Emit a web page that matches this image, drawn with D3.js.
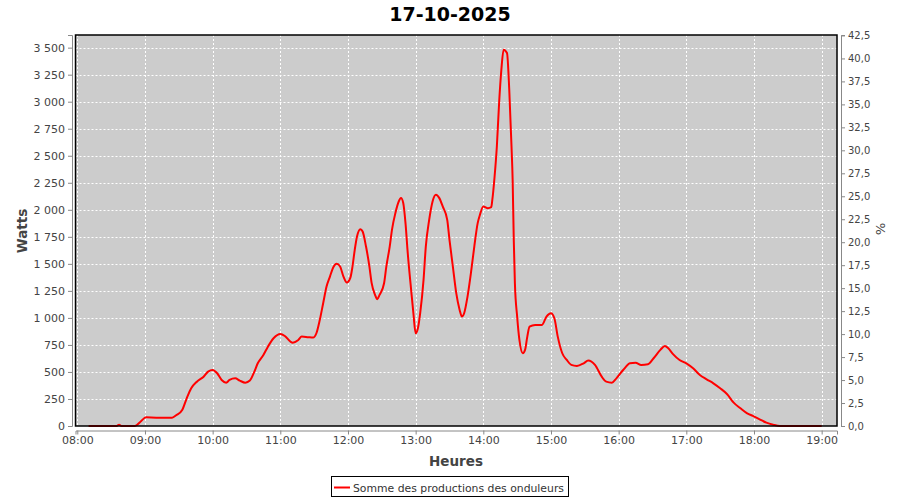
<!DOCTYPE html>
<html><head><meta charset="utf-8">
<script src="https://cdn.jsdelivr.net/npm/d3@7"></script>
<style>body{margin:0;background:#fff;} text{font-family:"DejaVu Sans",sans-serif;}</style>
</head><body><svg id="c" width="900" height="500"></svg>
<script>
const title = "17-10-2025";
const times = ["08:10","08:35","08:37","08:39","08:51","08:56","09:01","09:10","09:24","09:28","09:33","09:37","09:41","09:46","09:52","09:56","10:00","10:04","10:08","10:12","10:15","10:20","10:24","10:29","10:33","10:37","10:40","10:45","10:49","10:54","11:00","11:04","11:09","11:11","11:16","11:19","11:25","11:29","11:32","11:35","11:38","11:41","11:44","11:47","11:50","11:53","11:56","11:59","12:02","12:04","12:06","12:08","12:11","12:13","12:16","12:19","12:21","12:24","12:26","12:28","12:32","12:34","12:37","12:39","12:42","12:45","12:47","12:49","12:51","12:53","12:56","12:58","13:00","13:02","13:04","13:07","13:09","13:12","13:15","13:18","13:21","13:24","13:28","13:30","13:33","13:36","13:39","13:41","13:43","13:46","13:49","13:52","13:55","13:57","14:00","14:04","14:07","14:08","14:10","14:12","14:14","14:16","14:18","14:21","14:23","14:25","14:26","14:27","14:28","14:30","14:32","14:35","14:37","14:39","14:41","14:46","14:52","14:56","15:00","15:03","15:06","15:10","15:14","15:18","15:23","15:29","15:33","15:39","15:45","15:49","15:54","15:58","16:04","16:10","16:15","16:20","16:26","16:31","16:37","16:41","16:44","16:48","16:54","17:00","17:06","17:12","17:18","17:24","17:30","17:36","17:42","17:48","17:54","17:59","18:05","18:11","18:17","18:23","19:00"];
const watts = [0,0,12,0,0,40,80,77,77,102,148,256,349,410,456,503,518,488,426,401,426,441,420,401,420,503,580,657,734,812,852,833,780,771,796,827,821,818,858,981,1136,1290,1382,1469,1500,1475,1382,1327,1367,1475,1630,1753,1821,1799,1660,1475,1321,1213,1173,1213,1321,1475,1660,1815,1969,2077,2108,2062,1877,1599,1259,1043,858,904,1043,1352,1660,1907,2077,2139,2108,2031,1907,1722,1475,1229,1074,1012,1043,1197,1414,1660,1877,1954,2031,2015,2024,2093,2308,2586,2988,3296,3481,3451,3111,2586,2278,1722,1321,1012,796,673,704,827,919,935,935,1012,1043,997,827,673,611,565,555,580,605,565,456,410,401,441,518,580,586,565,571,627,704,741,719,667,611,580,534,472,432,395,349,296,216,164,117,93,62,31,12,0,0];
const hourTicks = ["08:00","09:00","10:00","11:00","12:00","13:00","14:00","15:00","16:00","17:00","18:00","19:00"];
const wattTicks = [0,250,500,750,1000,1250,1500,1750,2000,2250,2500,2750,3000,3250,3500];
const pctTicks = [0,2.5,5,7.5,10,12.5,15,17.5,20,22.5,25,27.5,30,32.5,35,37.5,40,42.5];
const seriesName = "Somme des productions des onduleurs";
const yLabel = "Watts", y2Label = "%", xLabel = "Heures";

const toDate = s => { const [h,m] = s.split(":").map(Number); return new Date(2025,9,17,h,m); };
const data = times.map((t,i)=>({t:toDate(t), w:watts[i]}));

const L=75.5, R=837, T=35, B=426;
const svg = d3.select("#c");
const x = d3.scaleTime().domain([new Date(2025,9,17,7,58,24), new Date(2025,9,17,19,13,36)]).range([L,R]);
const y = d3.scaleLinear().domain([0,3617]).range([B,T]);
const y2 = d3.scaleLinear().domain([0,42.55]).range([B,T]);

svg.append("rect").attr("x",L).attr("y",T).attr("width",R-L).attr("height",B-T).attr("fill","#cccccc");
// grid
svg.append("g").selectAll("line").data(wattTicks).join("line")
  .attr("x1",L).attr("x2",R).attr("y1",d=>Math.round(y(d))+0.5).attr("y2",d=>Math.round(y(d))+0.5)
  .attr("stroke","#fff").attr("stroke-width",1).attr("stroke-dasharray","2,2");
svg.append("g").selectAll("line").data(hourTicks).join("line")
  .attr("y1",T).attr("y2",B).attr("x1",d=>Math.round(x(toDate(d)))+0.5).attr("x2",d=>Math.round(x(toDate(d)))+0.5)
  .attr("stroke","#fff").attr("stroke-width",1).attr("stroke-dasharray","2,2");

// line
svg.append("path").datum(data).attr("d", d3.line().x(d=>x(d.t)).y(d=>y(d.w)).curve(d3.curveMonotoneX))
  .attr("fill","none").attr("stroke","#ff0000").attr("stroke-width",2);

svg.append("rect").attr("x",L).attr("y",T).attr("width",R-L).attr("height",B-T).attr("fill","none").attr("stroke","#000").attr("stroke-width",1.5);

// axes
const fmtW = d => d3.format(",")(d).replace(/,/g," ");
const fmtP = d => d3.format(".1f")(d).replace(".",",");
const gl = svg.append("g").attr("transform","translate(72,0)").call(d3.axisLeft(y).tickValues(wattTicks).tickFormat(fmtW).tickSize(4).tickPadding(3));
const g2 = svg.append("g").attr("transform","translate(841,0)").call(d3.axisRight(y2).tickValues(pctTicks).tickFormat(fmtP).tickSize(4).tickPadding(3));
const gx = svg.append("g").attr("transform","translate(0,430.5)").call(d3.axisBottom(x).tickValues(hourTicks.map(toDate)).tickFormat(d3.timeFormat("%H:%M")).tickSize(4).tickPadding(2));
[gl,g2,gx].forEach(g=>{
  g.select(".domain").attr("stroke","#888");
  g.selectAll(".tick line").attr("stroke","#888");
  g.selectAll("text").attr("fill","#444").style("font-family","DejaVu Sans").style("font-size","11px");
});
g2.selectAll("text").style("font-size","10px");

// labels
svg.append("text").attr("x",450).attr("y",21).attr("text-anchor","middle").attr("font-weight","bold").attr("font-size",19).attr("fill","#000").text(title);
svg.append("text").attr("x",456).attr("y",466).attr("text-anchor","middle").attr("font-weight","bold").attr("font-size",13.5).attr("fill","#444").text(xLabel);
svg.append("text").attr("transform","translate(27,231) rotate(-90)").attr("text-anchor","middle").attr("font-weight","bold").attr("font-size",13.5).attr("fill","#444").text(yLabel);
svg.append("text").attr("transform","translate(876,229) rotate(90)").attr("text-anchor","middle").attr("font-size",13).attr("fill","#444").text(y2Label);

// legend
const lg = svg.append("g");
lg.append("rect").attr("x",331.5).attr("y",476.5).attr("width",237).attr("height",20).attr("fill","#fff").attr("stroke","#000");
lg.append("line").attr("x1",334).attr("x2",350).attr("y1",487.5).attr("y2",487.5).attr("stroke","#ff0000").attr("stroke-width",2);
lg.append("text").attr("x",353).attr("y",491.5).attr("font-size",11).attr("textLength",211).attr("lengthAdjust","spacingAndGlyphs").attr("fill","#333").text(seriesName);
</script></body></html>
